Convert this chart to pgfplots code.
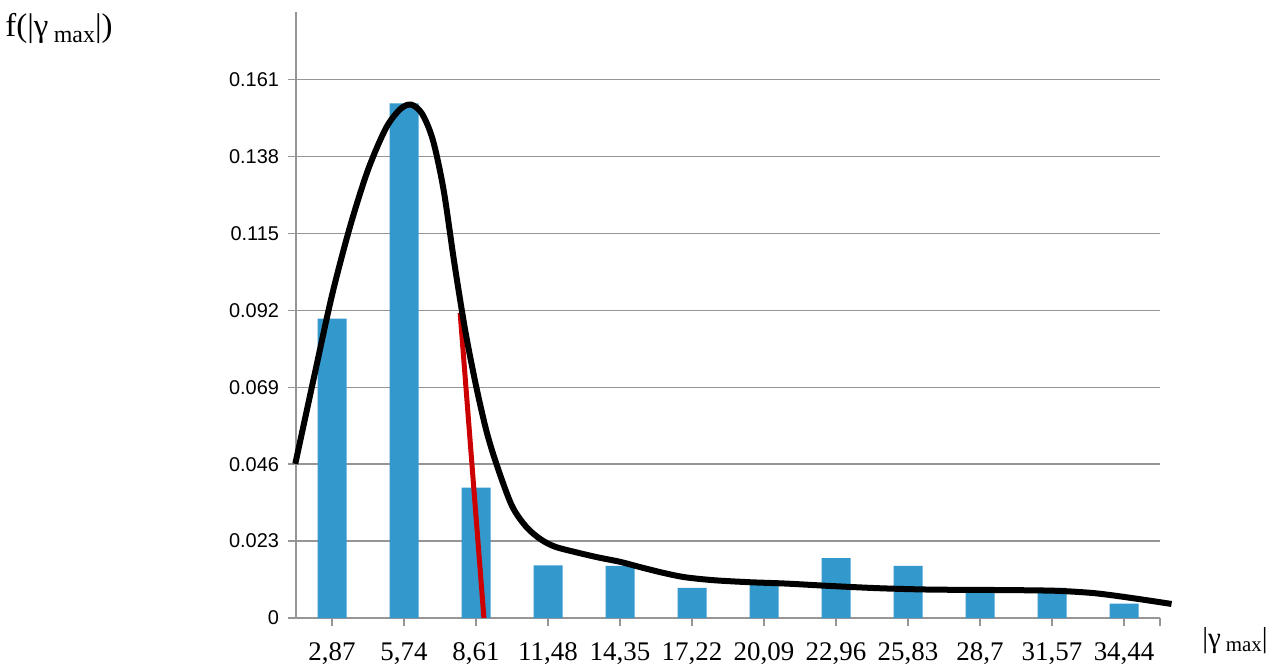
\documentclass[border=0pt]{standalone}
\usepackage{fontspec}
\setmainfont{Liberation Serif}
\newfontfamily\arial{Liberation Sans}
\usepackage{pgfplots}
\pgfplotsset{compat=1.18}
\definecolor{barblue}{RGB}{51,152,204}
\definecolor{redline}{RGB}{204,0,0}
\definecolor{gridgray}{RGB}{150,150,150}
\begin{document}
\begin{tikzpicture}
\useasboundingbox (0,0) rectangle (636bp,334bp);
\begin{axis}[
  at={(148bp,25bp)}, anchor=south west,
  scale only axis, width=432bp, height=303bp,
  xmin=0.5, xmax=12.5, ymin=0, ymax=0.1812,
  axis lines=left,
  axis line style={-, draw=gridgray, line width=0.7bp},
  xtick={1,2,3,4,5,6,7,8,9,10,11,12},
  xticklabels={{2,87},{5,74},{8,61},{11,48},{14,35},{17,22},{20,09},{22,96},{25,83},{28,7},{31,57},{34,44}},
  extra x ticks={12.5}, extra x tick labels={},
  ytick={0,0.023,0.046,0.069,0.092,0.115,0.138,0.161},
  yticklabels={0,0.023,0.046,0.069,0.092,0.115,0.138,0.161},
  tick align=outside,
  major tick length=4bp,
  tick style={draw=gridgray, line width=0.7bp},
  ymajorgrids,
  grid style={draw=gridgray, line width=0.7bp},
  xticklabel style={font=\fontsize{13.5}{15}\selectfont, yshift=-5bp},
  yticklabel style={font=\arial\fontsize{10}{12}\selectfont, xshift=-1bp},
  clip=false,
]
\addplot[ybar, bar width=14.5bp, fill=barblue, draw=none] coordinates {
 (1,0.0895) (2,0.1539) (3,0.0390) (4,0.0157) (5,0.0156) (6,0.0090)
 (7,0.0106) (8,0.0179) (9,0.0156) (10,0.0090) (11,0.0090) (12,0.0043)
};
\addplot[redline, line width=2.5bp] coordinates {(2.78,0.0912) (3.11,0)};
\addplot[black, line width=3bp, smooth] coordinates {
 (0.49,0.0461) (0.75,0.0720) (1.0,0.0965) (1.25,0.1170) (1.5,0.1340)
 (1.75,0.1465) (1.95,0.1522) (2.1,0.1535) (2.25,0.1508) (2.4,0.1430)
 (2.55,0.1280) (2.7,0.1060) (2.85,0.0860) (3.0,0.0695) (3.15,0.0555)
 (3.3,0.0450) (3.5,0.0335) (3.7,0.0272) (3.9,0.0235) (4.1,0.0213)
 (4.4,0.0196) (4.7,0.0181) (5.0,0.0168) (5.3,0.0151) (5.6,0.0135)
 (5.9,0.0122) (6.3,0.0113) (6.8,0.0107) (7.3,0.0103) (7.9,0.0096)
 (8.6,0.0089) (9.3,0.0085) (10.0,0.0084) (10.6,0.0083) (11.1,0.0081)
 (11.6,0.0074) (12.1,0.0060) (12.66,0.0042)
};
\end{axis}
\node[anchor=base west, inner sep=0] at (2.5bp,315.5bp) {\fontsize{16.5}{19}\selectfont f(|γ\,\raisebox{-0.35ex}{\fontsize{12}{14}\selectfont max}|)};
\node[anchor=base east, inner sep=0] at (634bp,10.5bp) {\fontsize{14.5}{17}\selectfont |γ\,\raisebox{-0.35ex}{\fontsize{10.5}{13}\selectfont max}|};
\end{tikzpicture}
\end{document}
